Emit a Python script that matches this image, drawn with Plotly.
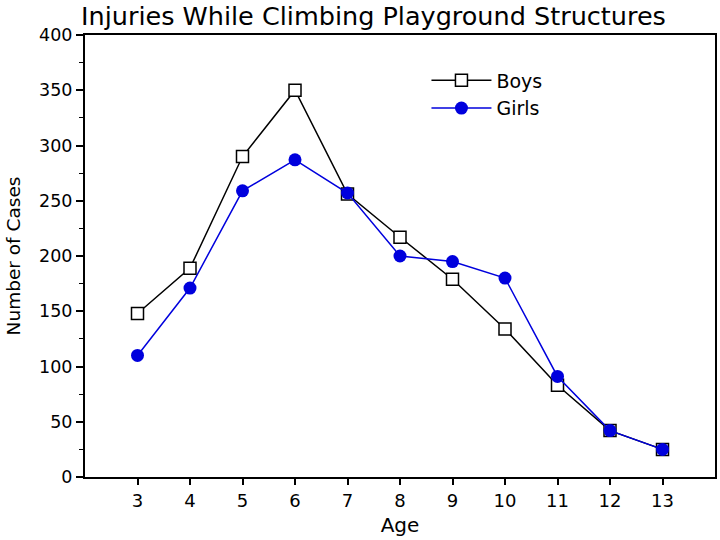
import plotly.graph_objects as go

ages = [3, 4, 5, 6, 7, 8, 9, 10, 11, 12, 13]
boys = [148, 189, 290, 350, 256, 217, 179, 134, 83, 42, 25]
girls = [110, 171, 259, 287, 257, 200, 195, 180, 91, 42, 25]

FONT = "DejaVu Sans"

fig = go.Figure()
fig.add_trace(go.Scatter(
    x=ages, y=boys, name="Boys", mode="lines+markers",
    line=dict(color="black", width=1.5),
    marker=dict(symbol="square", size=12, color="white",
                line=dict(color="black", width=1.5)),
))
fig.add_trace(go.Scatter(
    x=ages, y=girls, name="Girls", mode="lines+markers",
    line=dict(color="#0000dd", width=1.5),
    marker=dict(symbol="circle", size=13, color="#0000dd",
                line=dict(width=0)),
))

fig.update_layout(
    width=720, height=540,
    margin=dict(l=85, r=3, t=35, b=63),
    paper_bgcolor="white", plot_bgcolor="white",
    font=dict(family=FONT, color="black", size=17),
    title=dict(text="Injuries While Climbing Playground Structures",
               x=81/720, xanchor="left", y=1-16/540, yanchor="middle",
               font=dict(size=25.5, family=FONT)),
    showlegend=True,
    legend=dict(x=0.542, y=0.94, xanchor="left", yanchor="top",
                bgcolor="rgba(0,0,0,0)", font=dict(size=19),
                itemwidth=60, tracegroupgap=0),
    xaxis=dict(range=[2, 14], tickmode="array", tickvals=ages,
               ticktext=[str(a) for a in ages],
               showgrid=False, zeroline=False,
               showline=True, linecolor="black", linewidth=2, mirror=True,
               ticks="outside", ticklen=6, tickwidth=1.5, tickcolor="black",
               tickfont=dict(size=18),
               title=dict(text="Age", font=dict(size=20), standoff=8)),
    yaxis=dict(range=[0, 400], tick0=0, dtick=50,
               showgrid=False, zeroline=False,
               showline=True, linecolor="black", linewidth=2, mirror=True,
               ticks="outside", ticklen=7, tickwidth=1.5, tickcolor="black",
               tickfont=dict(size=17.5),
               minor=dict(dtick=25, ticks="outside", ticklen=4,
                          tickwidth=1, tickcolor="black"),
               title=dict(text="Number of Cases", font=dict(size=18.5), standoff=14)),
)

fig.write_html("out.html")
